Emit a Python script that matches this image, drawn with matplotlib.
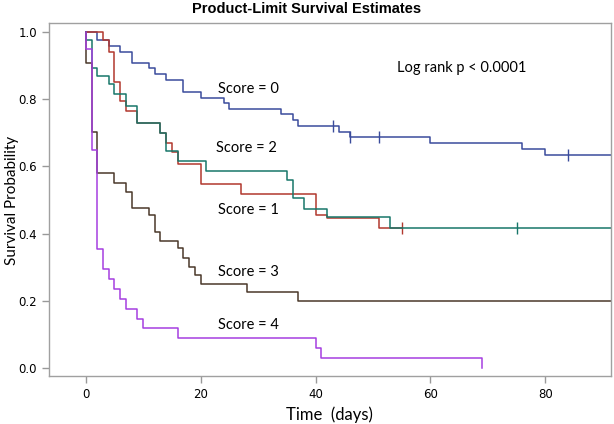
import matplotlib.pyplot as plt

# Kaplan-Meier estimates (time in days, survival probability)
score0_time = [0, 2, 4, 6, 8, 11, 12, 14, 17, 20, 24, 25, 34, 36, 37, 44, 46, 60, 76, 80, 92]
score0_surv = [1.0, 0.975, 0.957, 0.94, 0.908, 0.892, 0.874, 0.857, 0.822, 0.805, 0.79,
               0.771, 0.756, 0.738, 0.72, 0.703, 0.687, 0.669, 0.651, 0.633, 0.633]
score0_cens = [43, 46, 51, 84]

score1_time = [0, 3, 4, 5, 6, 7, 9, 13, 14, 15, 16, 20, 27, 40, 42, 51, 55]
score1_surv = [1.0, 0.976, 0.94, 0.852, 0.796, 0.766, 0.73, 0.698, 0.67, 0.644, 0.606,
               0.548, 0.518, 0.454, 0.445, 0.418, 0.418]
score1_cens = [55]

score2_time = [0, 0, 1, 2, 4, 5, 7, 9, 13, 14, 16, 21, 35, 36, 38, 42, 53, 92]
score2_surv = [1.0, 0.975, 0.894, 0.87, 0.845, 0.815, 0.78, 0.73, 0.698, 0.646, 0.615,
               0.585, 0.56, 0.505, 0.473, 0.448, 0.418, 0.418]
score2_cens = [75]

score3_time = [0, 0, 1, 2, 5, 7, 8, 11, 12, 13, 16, 17, 18, 19, 20, 28, 37, 92]
score3_surv = [1.0, 0.907, 0.703, 0.58, 0.552, 0.525, 0.477, 0.455, 0.406, 0.378, 0.356,
               0.326, 0.302, 0.277, 0.25, 0.227, 0.2, 0.2]
score3_cens = []

score4_time = [0, 0, 1, 2, 3, 4, 5, 6, 7, 9, 10, 16, 40, 41, 69]
score4_surv = [1.0, 0.949, 0.649, 0.353, 0.294, 0.265, 0.235, 0.206, 0.176, 0.147, 0.118,
               0.088, 0.059, 0.029, 0.0]
score4_cens = []

labels = ["Score = 0", "Score = 1", "Score = 2", "Score = 3", "Score = 4"]
label_pos = [(23, 0.83), (23, 0.47), (22.7, 0.655), (23, 0.286), (23, 0.128)]
colors = ["#3A4C9C", "#B2382E", "#17766A", "#4A3829", "#A53FE0"]

x_ticks = [0, 20, 40, 60, 80]
y_ticks = [0.0, 0.2, 0.4, 0.6, 0.8, 1.0]

curves = [
    (score0_time, score0_surv, score0_cens),
    (score1_time, score1_surv, score1_cens),
    (score2_time, score2_surv, score2_cens),
    (score3_time, score3_surv, score3_cens),
    (score4_time, score4_surv, score4_cens),
]

fig = plt.figure(figsize=(6.14, 4.24), dpi=100)
ax = fig.add_axes([0.0798, 0.1132, 0.915, 0.8326])

for (t, s, cens), col in zip(curves, colors):
    ax.step(t, s, where="post", color=col, lw=1.1)
    # censoring marks sit on the curve at the censored time
    for c in cens:
        idx = max(i for i, ti in enumerate(t) if ti <= c)
        ax.plot([c], [s[idx]], marker="|", color=col, markersize=8, mew=1.0)

for lab, (x, y) in zip(labels, label_pos):
    ax.text(x, y, lab, fontsize=10.5, family="Lato", va="center", ha="left")

ax.text(54.2, 0.893, "Log rank p < 0.0001", fontsize=10.5, family="Lato",
        va="center", ha="left")

ax.set_xlim(-6.4, 91.4)
ax.set_ylim(-0.024, 1.027)
ax.set_xticks(x_ticks)
ax.set_yticks(y_ticks)
ax.set_xticklabels([str(v) for v in x_ticks])
ax.set_yticklabels(["%.1f" % v for v in y_ticks])
ax.tick_params(colors="#999999", labelcolor="black", labelsize=8.5, length=5, width=1)

for sp in ax.spines.values():
    sp.set_color("#A0A0A0")
    sp.set_linewidth(1.0)

ax.set_xlabel("Time  (days)", fontsize=12, family="Lato", labelpad=4)
fig.text(12 / 614, 1 - 200 / 424, "Survival Probability", fontsize=11, family="Lato",
         rotation=90, ha="center", va="center")

fig.suptitle("Product-Limit Survival Estimates", fontsize=10.5, fontweight="bold",
             family="Liberation Sans", x=0.5, y=0.995, va="top")

fig.savefig("out.png", dpi=100)
